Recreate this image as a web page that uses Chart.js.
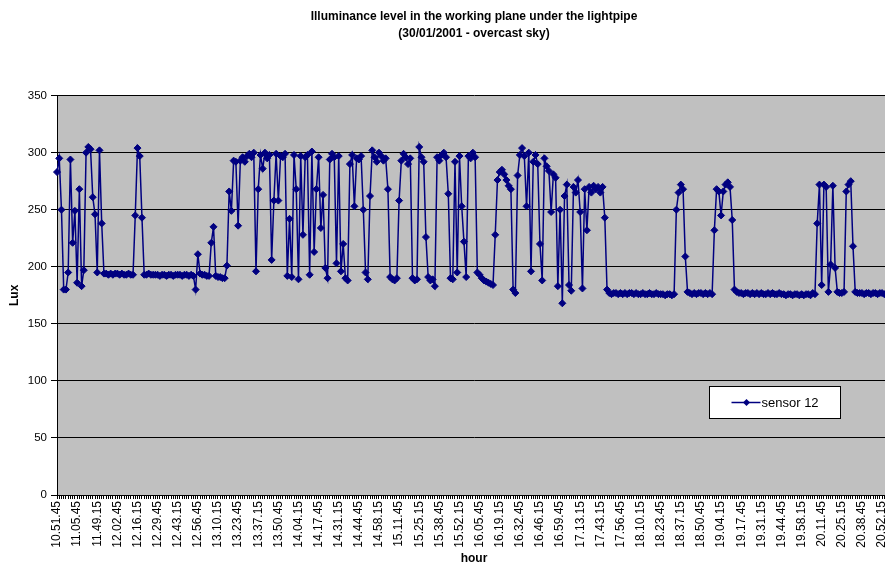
<!DOCTYPE html>
<html>
<head>
<meta charset="utf-8">
<script src="https://cdn.jsdelivr.net/npm/chart.js@4.4.1/dist/chart.umd.min.js"></script>
<style>
  html, body { margin: 0; padding: 0; overflow: hidden; background: #fff; }
  #wrap { position: relative; width: 896px; height: 568px; }
</style>
</head>
<body>
<div id="wrap"><canvas id="c"></canvas></div>
<script>
// Illuminance readings of sensor 12, logged every 90 s on 30/01/2001.
const chartTitle = ['Illuminance level in the working plane under the lightpipe', '(30/01/2001 - overcast sky)'];
const seriesName = 'sensor 12';
const xAxisName = 'hour';
const yAxisName = 'Lux';

// One axis label every 9 readings
const samplesPerTick = 9;
const tickLabels = [
  '10.51.45', '11.05.45', '11.49.15', '12.02.45', '12.16.15', '12.29.45', '12.43.15',
  '12.56.45', '13.10.15', '13.23.45', '13.37.15', '13.50.45', '14.04.15', '14.17.45',
  '14.31.15', '14.44.45', '14.58.15', '15.11.45', '15.25.15', '15.38.45', '15.52.15',
  '16.05.45', '16.19.15', '16.32.45', '16.46.15', '16.59.45', '17.13.15', '17.43.15',
  '17.56.45', '18.10.15', '18.23.45', '18.37.15', '18.50.45', '19.04.15', '19.17.45',
  '19.31.15', '19.44.45', '19.58.15', '20.11.45', '20.25.15', '20.38.45', '20.52.15'
];

const lux = [
  283, 295, 250, 180, 180, 195, 294, 221, 249,   // 10.51.45
  186, 268, 183, 197, 300, 305, 303, 261, 246,   // 11.05.45
  195, 302, 238, 194, 194, 193, 194, 193, 194,   // 11.49.15
  194, 193, 194, 193, 193, 194, 193, 193, 245,   // 12.02.45
  304, 297, 243, 193, 193, 194, 193, 193, 193,   // 12.16.15
  193, 192, 193, 193, 192, 193, 193, 192, 193,   // 12.29.45
  193, 193, 192, 193, 193, 192, 193, 192, 180,   // 12.43.15
  211, 194, 193, 193, 192, 192, 221, 235, 192,   // 12.56.45
  191, 191, 190, 190, 201, 266, 249, 293, 292,   // 13.10.15
  236, 293, 296, 292, 297, 299, 296, 300, 196,   // 13.23.45
  268, 298, 286, 300, 295, 298, 206, 258, 299,   // 13.37.15
  258, 297, 296, 299, 192, 242, 191, 298, 268,   // 13.50.45
  189, 297, 228, 296, 298, 193, 301, 213, 268,   // 14.04.15
  296, 234, 263, 199, 190, 294, 299, 296, 203,   // 14.17.45
  297, 196, 220, 190, 188, 290, 298, 253, 295,   // 14.31.15
  294, 297, 250, 195, 189, 262, 302, 296, 292,   // 14.44.45
  300, 297, 293, 295, 268, 191, 189, 188, 190,   // 14.58.15
  258, 293, 299, 296, 290, 295, 190, 188, 189,   // 15.11.45
  305, 296, 292, 226, 191, 188, 189, 183, 296,   // 15.25.15
  293, 298, 300, 296, 264, 190, 189, 292, 195,   // 15.38.45
  297, 253, 222, 191, 297, 295, 300, 296, 195,   // 15.52.15
  193, 190, 188, 187, 186, 185, 184, 228, 276,   // 16.05.45
  283, 285, 281, 276, 271, 268, 180, 177, 280,   // 16.19.15
  298, 304, 297, 253, 300, 196, 292, 298, 290,   // 16.32.45
  220, 188, 295, 288, 284, 248, 281, 278, 183,   // 16.46.15
  250, 168, 262, 272, 184, 179, 270, 265, 276,   // 16.59.45
  248, 181, 268, 232, 270, 265, 271, 268, 270,   // 17.13.15
  265, 270, 243, 180, 177, 176, 177, 177, 176,   // 17.43.15
  177, 176, 177, 176, 177, 177, 176, 177, 176,   // 17.56.45
  176, 177, 176, 176, 177, 176, 176, 177, 176,   // 18.10.15
  176, 176, 175, 176, 176, 175, 176, 250, 265,   // 18.23.45
  272, 268, 209, 178, 177, 176, 177, 176, 177,   // 18.37.15
  177, 176, 177, 176, 177, 176, 232, 268, 266,   // 18.50.45
  245, 266, 272, 274, 270, 241, 180, 178, 177,   // 19.04.15
  177, 176, 177, 177, 176, 177, 176, 177, 176,   // 19.17.45
  177, 176, 176, 177, 176, 177, 176, 176, 177,   // 19.31.15
  176, 176, 175, 176, 176, 175, 176, 176, 175,   // 19.44.45
  176, 175, 176, 176, 175, 177, 176, 238, 272,   // 19.58.15
  184, 272, 270, 178, 202, 271, 199, 178, 177,   // 20.11.45
  177, 178, 266, 272, 275, 218, 178, 177, 177,   // 20.25.15
  177, 176, 177, 177, 176, 177, 177, 176, 177,   // 20.38.45
  177, 176, 177, 176, 177                        // 20.52.15
];

// Category per reading: only every 9th one carries a time label
const categories = lux.map((_, i) =>
  i % samplesPerTick === 0 ? (tickLabels[i / samplesPerTick] || '') : '');

const CANVAS_H = 568;
const PLOT_BOTTOM = 495;
const Y_AXIS_W = 57;
const lineColor = '#000080';

Chart.defaults.font.family = "'Liberation Sans', Arial, sans-serif";
Chart.defaults.color = '#000';

// Grey plot background
const plotBackground = {
  id: 'plotBackground',
  beforeDraw(chart) {
    const { ctx, chartArea: a } = chart;
    ctx.save();
    ctx.fillStyle = '#c0c0c0';
    ctx.fillRect(a.left, a.top, a.right - a.left, a.bottom - a.top);
    ctx.restore();
  }
};

// Centre the title over the plot area rather than the whole canvas
const titleOverPlot = {
  id: 'titleOverPlot',
  afterLayout(chart) {
    const t = chart.titleBlock;
    if (t) {
      t.left = chart.chartArea.left;
      t.right = chart.chartArea.right;
    }
  }
};

// Boxed legend sitting inside the plot area
const boxedLegend = {
  id: 'boxedLegend',
  afterDatasetsDraw(chart) {
    const { ctx, chartArea: a } = chart;
    const ds = chart.data.datasets[0];
    const x = Math.round(a.left + 652) + 0.5;
    const y = Math.round(a.top + 290) + 0.5;
    const bw = 131, bh = 32;
    const cy = y + bh / 2;
    ctx.save();
    ctx.fillStyle = '#fff';
    ctx.fillRect(x, y, bw, bh);
    ctx.strokeStyle = '#000';
    ctx.lineWidth = 1;
    ctx.strokeRect(x, y, bw, bh);
    ctx.strokeStyle = ds.borderColor;
    ctx.lineWidth = ds.borderWidth;
    ctx.beginPath();
    ctx.moveTo(x + 22, cy);
    ctx.lineTo(x + 51, cy);
    ctx.stroke();
    const r = ds.pointRadius;
    ctx.fillStyle = ds.pointBackgroundColor;
    ctx.beginPath();
    ctx.moveTo(x + 37 - r, cy);
    ctx.lineTo(x + 37, cy - r);
    ctx.lineTo(x + 37 + r, cy);
    ctx.lineTo(x + 37, cy + r);
    ctx.closePath();
    ctx.fill();
    ctx.fillStyle = '#000';
    ctx.font = "13px 'Liberation Sans', Arial, sans-serif";
    ctx.textBaseline = 'middle';
    ctx.textAlign = 'left';
    ctx.fillText(ds.label, x + 52, cy + 1);
    ctx.restore();
  }
};

new Chart(document.getElementById('c'), {
  type: 'line',
  data: {
    labels: categories,
    datasets: [{
      label: seriesName,
      data: lux,
      borderColor: lineColor,
      backgroundColor: lineColor,
      borderWidth: 1.5,
      pointStyle: 'rectRot',
      pointRadius: 3.5,
      pointBorderWidth: 1,
      pointBackgroundColor: lineColor,
      pointBorderColor: lineColor,
      tension: 0,
      fill: false
    }]
  },
  options: {
    responsive: true,
    maintainAspectRatio: false,
    animation: false,
    events: [],
    layout: { padding: 0 },
    plugins: {
      legend: { display: false },
      tooltip: { enabled: false },
      title: {
        display: true,
        text: chartTitle,
        color: '#000',
        font: { size: 12, weight: 'bold', lineHeight: 1.4 },
        padding: { top: 8, bottom: 54 }
      }
    },
    scales: {
      x: {
        type: 'category',
        offset: false,
        grid: { display: true, drawOnChartArea: false, drawTicks: true, tickLength: 4, color: '#000', lineWidth: 1 },
        border: { display: true, color: '#000', width: 1 },
        ticks: { autoSkip: false, minRotation: 90, maxRotation: 90, padding: 2, color: '#000', font: { size: 12 } },
        title: { display: true, text: xAxisName, color: '#000', font: { size: 12, weight: 'bold' }, padding: { top: 0, bottom: 2 } },
        afterFit(scale) {
          scale.height = CANVAS_H - PLOT_BOTTOM;
          scale.paddingLeft = 0;
          scale.paddingRight = 0;
        }
      },
      y: {
        min: 0,
        max: 350,
        grid: { color: '#000', lineWidth: 1, tickLength: 6 },
        border: { display: true, color: '#000', width: 1 },
        ticks: { stepSize: 50, padding: 4, color: '#000', font: { size: 11.5 } },
        title: { display: true, text: yAxisName, color: '#000', font: { size: 12, weight: 'bold' }, padding: { top: 7, bottom: 0 } },
        afterFit(scale) {
          scale.width = Y_AXIS_W;
          scale.paddingTop = 0;
          scale.paddingBottom = 0;
        }
      }
    }
  },
  plugins: [plotBackground, titleOverPlot, boxedLegend]
});
</script>
</body>
</html>
